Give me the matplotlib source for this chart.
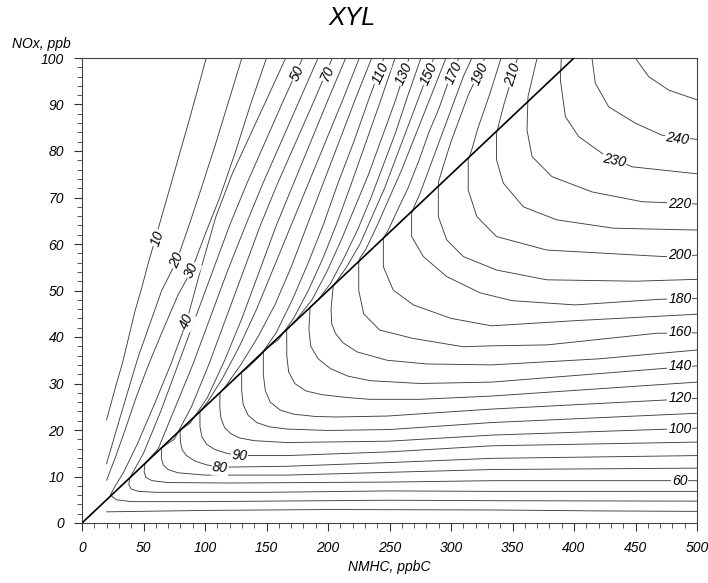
import matplotlib
matplotlib.use("Agg")
import matplotlib.pyplot as plt
from matplotlib.ticker import MultipleLocator

# ---- data: ozone isopleths (ppb), NMHC (ppbC) vs NOx (ppb)
c10a_x = [20, 27, 33, 38, 43, 48.5, 54, 60, 66, 73, 80, 87, 94, 101]
c10a_y = [22.2, 29, 34.5, 40, 45.5, 50.5, 56, 61.5, 67, 73.5, 80, 86.5, 93.2, 100]
c20a_x = [20, 29.5, 37.6, 45.8, 55.3, 64.8, 77, 87, 97, 108, 119, 130]
c20a_y = [12.8, 21.4, 28.6, 35.8, 42.9, 50, 56.4, 64, 72, 81, 90.5, 100]
c30a_x = [20, 27, 35, 44, 54, 65, 78, 89, 100, 112, 125, 137, 150]
c30a_y = [9.2, 14, 20, 27, 34, 41, 49, 54.3, 62, 70, 80, 90, 100]
c30b_x = [20, 100, 200, 333, 420, 500]
c30b_y = [2.4, 2.7, 2.9, 2.8, 2.6, 2.5]
c40_x = [165.6, 150, 136, 122, 109, 97, 85, 72, 58, 45, 34, 26, 23, 28, 40, 100, 250, 333, 500]
c40_y = [100, 91, 83, 75, 66, 55, 43.3, 34, 25, 17, 11, 7.5, 6, 5, 4.6, 4.6, 4.9, 4.8, 4.7]
c50_x = [179.4, 164, 149, 134, 120, 106, 92, 78, 64, 50, 39, 38, 40, 46, 60, 150, 250, 333, 500]
c50_y = [100, 91, 82, 73, 64, 54, 44, 34, 24, 15, 9.75, 8.3, 7.3, 6.8, 6.6, 6.6, 6.9, 6.8, 6.8]
c60_x = [191.9, 177, 162, 147, 133, 118, 104, 90, 76, 62, 51.2, 50.5, 52, 57, 70, 120, 250, 333, 500]
c60_y = [100, 91, 82, 73, 64, 54, 44, 34, 25, 16, 12.8, 11, 9.8, 9.1, 8.7, 8.6, 8.8, 9.1, 9.1]
c70_x = [203.5, 189, 174, 159, 145, 131, 117, 103, 89, 75, 64.8, 64.5, 66, 70, 78, 100, 166.7, 250, 333, 500]
c70_y = [100, 91, 82, 73, 64, 54, 44, 34, 25, 18, 16.2, 14, 12.5, 11.5, 10.8, 10.3, 10.3, 10.9, 11.5, 11.8]
c80_x = [214.4, 200, 186, 172, 158, 144, 130, 116, 102, 88, 79.7, 80, 81.5, 85, 92, 101.4, 112.2, 166.7, 250, 333, 500]
c80_y = [100, 91, 82, 73, 64, 54, 44, 35, 27, 21.5, 19.9, 17.5, 15.7, 14.5, 13.3, 12.5, 12, 12.2, 13, 13.9, 14.5]
c90_x = [225.5, 212, 198, 184, 170, 156, 142, 128, 114, 102, 95.9, 95.9, 97.5, 101.4, 108, 117.6, 127.9, 166.7, 250, 333, 500]
c90_y = [100, 91, 82, 73, 64, 55, 46, 38, 31, 26, 24, 20.7, 18.5, 16.9, 15.8, 15, 14.5, 14.5, 15.3, 16.6, 17.4]
c100_x = [235.5, 222, 209, 196, 183, 170, 157, 143, 129, 117, 112.2, 112, 113, 116, 121, 128, 140, 166.7, 250, 333, 500]
c100_y = [100, 91, 82, 73, 64, 55, 47, 40, 34, 29.5, 28, 25, 22.5, 20.5, 19.2, 18.3, 17.7, 17.3, 17.6, 18.9, 20.4]
c110_x = [245.5, 233, 221, 208, 196, 184, 171, 158, 145, 133, 129.8, 129.8, 131, 135, 142, 152, 166.7, 200, 250, 333, 500]
c110_y = [100, 91, 82, 73, 64, 56, 48, 41, 36, 33, 32.45, 28.6, 25.5, 23.2, 21.6, 20.7, 20.2, 19.9, 20.1, 21.6, 23.6]
c120_x = [254.5, 243, 231, 219, 208, 196, 184, 172, 160, 150, 147.4, 147.4, 149, 153, 161, 172, 190, 207, 248, 333, 500]
c120_y = [100, 91, 82, 73, 65, 57, 50, 44, 39.5, 37.5, 36.85, 32, 28.5, 26, 24.3, 23.4, 22.9, 22.8, 23, 24.5, 26.8]
c130_x = [265.9, 255, 244, 233, 222, 211, 199, 187, 175, 168, 166.4, 166.5, 168, 173, 182, 195, 215, 234, 275, 333, 500]
c130_y = [100, 91, 83, 75, 68, 61, 54, 48, 44, 42, 41.6, 36, 32.5, 30, 28.4, 27.6, 27, 26.6, 26.6, 27.3, 30.3]
c140_x = [275.6, 265, 255, 245, 235, 224, 213, 202, 192, 187, 185.4, 184.5, 186, 192, 202, 216, 234.4, 275, 333, 500]
c140_y = [100, 92, 84, 77, 70, 63, 57, 51.5, 48, 46.8, 46.35, 41.5, 38, 35.3, 33.2, 31.6, 30.6, 30, 30.3, 33.8]
c150_x = [286, 276, 266, 256, 246, 236, 226, 215, 207, 204.3, 202.5, 203, 206, 212, 223.6, 248, 280.5, 333, 420, 500]
c150_y = [100, 93, 86, 79, 72, 66, 60, 55, 52, 51.1, 46, 42.9, 40.8, 38.8, 36.8, 35, 34.2, 34, 35.3, 37.2]
c160_x = [295.9, 287, 278, 269, 260, 250, 240, 231, 226, 225, 225, 229, 242, 269, 310, 333, 378, 467, 500]
c160_y = [100, 94, 88, 82, 76, 70, 64, 59, 57, 56.25, 50, 45, 41.5, 39.7, 37.9, 38.1, 38.3, 40.8, 40.9]
c170_x = [306.5, 298, 290, 282, 274, 265, 256, 249, 245, 245, 253, 269.4, 300, 333, 400, 500]
c170_y = [100, 95, 89, 84, 78, 72, 67, 63, 61.25, 55.1, 50.1, 46.9, 44, 42.4, 43.5, 44.9]
c180_x = [317, 310, 303, 296, 289, 282, 275, 270, 268, 268, 277.5, 296.5, 323.6, 350, 401, 468.9, 500]
c180_y = [100, 96, 91, 86, 81, 76, 71, 68, 66.6, 61.6, 57.3, 53, 49.5, 47.8, 46.9, 48.1, 48.3]
c190_x = [327.6, 321, 314, 307, 300, 294, 290, 289.7, 289.7, 296.5, 310, 337, 377.8, 450, 500]
c190_y = [100, 96, 92, 87, 82, 77, 73.5, 72, 65.9, 60.9, 57.3, 54.4, 52.3, 52, 52.4]
c200_x = [340.7, 331.7, 322, 316.8, 314, 314, 321, 337, 377.8, 472.6, 500]
c200_y = [100, 92.4, 85, 80.2, 78.1, 71.6, 65.9, 61.6, 58.7, 57.3, 57.6]
c210_x = [354, 350.2, 343, 337, 337, 342.5, 358.8, 385.9, 432, 500]
c210_y = [100, 96.3, 90, 83.8, 78.1, 73.1, 68, 65.2, 63.4, 63]
c220_x = [370, 362.6, 361.8, 365.9, 382, 414.6, 455.3, 500]
c220_y = [100, 91.7, 84.5, 78.8, 74.5, 71.2, 69.1, 68.6]
c230_x = [389.7, 388.9, 393, 403.8, 422.8, 447.2, 500]
c230_y = [100, 95.3, 87.4, 83.1, 79.5, 76.6, 75.1]
c240_x = [414.6, 417.3, 428.2, 449.8, 471.5, 500]
c240_y = [100, 94.6, 89.5, 86, 83.4, 82.5]
c250_x = [449.8, 460.7, 477, 500]
c250_y = [100, 96, 93.1, 91]

# isopleth labels
label_text = ["10", "20", "30", "40", "50", "70", "110", "130", "150", "170", "190", "210",
              "80", "90", "60", "100", "120", "140", "160", "180", "200", "220", "230", "240"]
label_x = [61.2, 77, 89.2, 85.1, 174.8, 199.2, 242.5, 261.5, 281.9, 302.2, 323.8, 350.2,
           112.2, 127.9, 486, 486, 486, 486, 486, 486, 486, 486, 433, 484]
label_y = [61.2, 56.4, 54.3, 43.3, 96.7, 96.7, 96.7, 96.7, 96.6, 96.8, 96.7, 96.3,
           11.8, 14.4, 9.1, 20.2, 26.8, 33.8, 41.0, 48.2, 57.6, 68.6, 78.0, 82.7]
label_rot = [70, 65, 65, 65, 65, 65, 65, 65, 65, 65, 65, 72,
             -5, -5, 0, 0, 0, 0, 0, 0, 0, 0, -12, -8]

# ratio line NMHC/NOx
ratio_nmhc_per_nox = 4

xlim = (0, 500)
ylim = (0, 100)

FONT = ["Liberation Sans Narrow", "Liberation Sans", "DejaVu Sans"]
plt.rcParams["font.family"] = FONT

fig = plt.figure(figsize=(7.08, 5.83), dpi=100)
ax = fig.add_axes([82 / 708, 60 / 583, 615 / 708, 465 / 583])

lines = [
    (c10a_x, c10a_y), (c20a_x, c20a_y), (c30a_x, c30a_y), (c30b_x, c30b_y),
    (c40_x, c40_y), (c50_x, c50_y), (c60_x, c60_y), (c70_x, c70_y), (c80_x, c80_y),
    (c90_x, c90_y), (c100_x, c100_y), (c110_x, c110_y), (c120_x, c120_y),
    (c130_x, c130_y), (c140_x, c140_y), (c150_x, c150_y), (c160_x, c160_y),
    (c170_x, c170_y), (c180_x, c180_y), (c190_x, c190_y), (c200_x, c200_y),
    (c210_x, c210_y), (c220_x, c220_y), (c230_x, c230_y), (c240_x, c240_y),
    (c250_x, c250_y),
]
for lx, ly in lines:
    ax.plot(lx, ly, color="#404040", lw=0.65, zorder=2, solid_joinstyle="round")

ax.plot([0, ratio_nmhc_per_nox * ylim[1]], [0, ylim[1]], color="black", lw=1.2, zorder=3)

for t, x, y, r in zip(label_text, label_x, label_y, label_rot):
    ax.text(x, y, t, rotation=r, rotation_mode="anchor", ha="center", va="center",
            fontsize=10, fontstyle="italic", zorder=4,
            bbox=dict(facecolor="white", edgecolor="none", pad=0.6))

ax.set_xlim(*xlim)
ax.set_ylim(*ylim)
ax.xaxis.set_major_locator(MultipleLocator(50))
ax.xaxis.set_minor_locator(MultipleLocator(10))
ax.yaxis.set_major_locator(MultipleLocator(10))
ax.yaxis.set_minor_locator(MultipleLocator(2))
ax.tick_params(which="major", direction="out", length=6, width=0.8, color="#333333",
               labelsize=10, pad=7)
ax.tick_params(which="minor", direction="out", length=3.5, width=0.7, color="#555555")
for lab in ax.get_xticklabels() + ax.get_yticklabels():
    lab.set_fontstyle("italic")
for s in ax.spines.values():
    s.set_linewidth(0.8)
    s.set_color("#444444")

fig.text(352 / 708, 1 - 18 / 583, "XYL", fontsize=18, fontstyle="italic", ha="center", va="center")
fig.text(12 / 708, 1 - 44 / 583, "NOx, ppb", fontsize=10, fontstyle="italic", ha="left", va="center")
fig.text(389 / 708, 1 - 567 / 583, "NMHC, ppbC", fontsize=10, fontstyle="italic", ha="center", va="center")

fig.savefig("out.png", dpi=100)
